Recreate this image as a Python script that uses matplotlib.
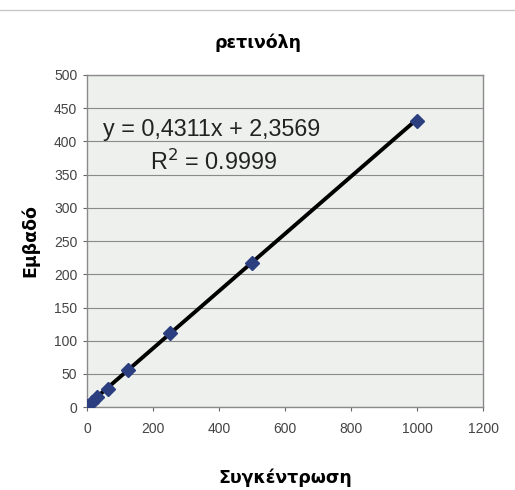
import matplotlib
matplotlib.use("Agg")
import matplotlib.pyplot as plt
import numpy as np

# Data
concentration = [0, 15.6, 31.25, 62.5, 125, 250, 500, 1000]
area = [2, 8, 15, 28, 56, 111, 217, 430]
slope = 0.4311
intercept = 2.3569
x_ticks = [0, 200, 400, 600, 800, 1000, 1200]
y_ticks = [0, 50, 100, 150, 200, 250, 300, 350, 400, 450, 500]
title = "ρετινόλη"
xlabel = "Συγκέντρωση"
ylabel = "Εμβαδό"
eq_text = "y = 0,4311x + 2,3569"
r2_text = "R$^2$ = 0.9999"

fig = plt.figure(figsize=(5.15, 4.9), dpi=100)
fig.patch.set_facecolor("white")
ax = fig.add_axes([0.169, 0.169, 0.769, 0.678])
ax.set_facecolor("#eef0ee")

ax.set_xlim(0, 1200)
ax.set_ylim(0, 500)
ax.set_xticks(x_ticks)
ax.set_yticks(y_ticks)
ax.yaxis.grid(True, color="#8a8a8a", linewidth=0.8)
ax.set_axisbelow(True)
for s in ax.spines.values():
    s.set_color("#8a8a8a")
    s.set_linewidth(1.0)
ax.tick_params(axis="both", labelsize=10, colors="#666666", length=3,
               labelcolor="#444444")
ax.tick_params(axis="x", pad=8)
ax.tick_params(axis="y", pad=4)
for lab in ax.get_xticklabels() + ax.get_yticklabels():
    lab.set_family("Liberation Sans")

xs = np.array([min(concentration), max(concentration)])
ax.plot(xs, slope * xs + intercept, color="black", linewidth=2.8, zorder=2)
ax.plot(concentration, area, linestyle="none", marker="D", markersize=7,
        color="#2b3f80", markeredgecolor="#2b3f80", zorder=3)

ax.text(48, 418, eq_text, fontsize=16.8, family="Liberation Sans",
        color="#222222", va="center", ha="left")
ax.text(383, 369, r2_text, fontsize=16.8, family="Liberation Sans",
        color="#222222", va="center", ha="center")

fig.text(0.5, 0.912, title, fontsize=12.5, fontweight="bold",
         family="DejaVu Sans", ha="center", va="center")
fig.text(0.554, 0.026, xlabel, fontsize=12.5, fontweight="bold",
         family="DejaVu Sans", ha="center", va="center")
fig.text(0.058, 0.51, ylabel, fontsize=12.5, fontweight="bold",
         family="DejaVu Sans", ha="center", va="center", rotation=90)

# outer frame line at top
fig.add_artist(plt.Line2D([0.0, 1.0], [0.98, 0.98], color="#c8c8c8",
                          linewidth=1.0, transform=fig.transFigure))

fig.savefig("out.png", dpi=100)
